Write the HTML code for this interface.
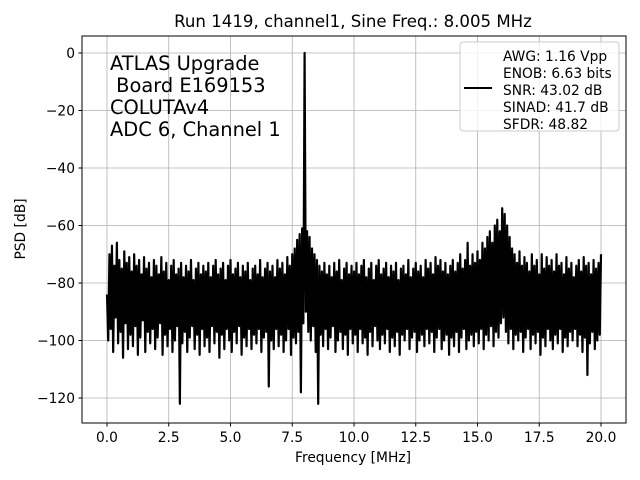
<!DOCTYPE html>
<html><head><meta charset="utf-8"><style>
body{margin:0;background:#fff}
svg{display:block;font-family:"DejaVu Sans","Liberation Sans",sans-serif}
</style></head><body>
<svg id="c" width="640" height="480">
<rect x="0" y="0" width="640" height="480" fill="#fff"/>
<g id="grid"></g>
<g id="plot"></g>
<rect x="82" y="36" width="544" height="387" fill="none" stroke="#000" stroke-width="1"/>
<g id="ticks"></g>
<text x="353" y="27" text-anchor="middle" font-size="16.6">Run 1419, channel1, Sine Freq.: 8.005 MHz</text>
<text x="353" y="462" text-anchor="middle" font-size="13.8">Frequency [MHz]</text>
<text transform="translate(25,229) rotate(-90)" text-anchor="middle" font-size="13.8">PSD [dB]</text>
<g font-size="19.4">
<text x="110" y="70">ATLAS Upgrade</text>
<text x="110" y="92" xml:space="preserve"> Board E169153</text>
<text x="110" y="114">COLUTAv4</text>
<text x="110" y="136">ADC 6, Channel 1</text>
</g>
<g>
<rect x="460" y="42" width="159" height="89" rx="3" fill="#fff" fill-opacity="0.8" stroke="#ccc"/>
<line x1="464" y1="88" x2="492" y2="88" stroke="#000" stroke-width="2"/>
<g font-size="13.8">
<text x="503" y="61">AWG: 1.16 Vpp</text>
<text x="503" y="78">ENOB: 6.63 bits</text>
<text x="503" y="95">SNR: 43.02 dB</text>
<text x="503" y="112">SINAD: 41.7 dB</text>
<text x="503" y="129">SFDR: 48.82</text>
</g>
</g>
</svg>
<script>
const xTicks=[0,2.5,5,7.5,10,12.5,15,17.5,20];
const xTickLabels=["0.0","2.5","5.0","7.5","10.0","12.5","15.0","17.5","20.0"];
const yTicks=[0,-20,-40,-60,-80,-100,-120];
const yTickLabels=["0","−20","−40","−60","−80","−100","−120"];
const freqStep=0.05;
const psd=[
-84,-100,-70,-96,-67,-104,-74,-92,-66,-101,-72,-97,-75,-106,-69,-94,-73,-103,-71,-98,
-76,-102,-70,-95,-74,-105,-72,-99,-77,-93,-71,-104,-75,-97,-73,-101,-78,-96,-72,-103,
-74,-99,-77,-94,-71,-105,-76,-98,-73,-102,-79,-96,-74,-104,-72,-100,-77,-95,-75,-122,
-73,-101,-78,-97,-74,-104,-76,-99,-72,-95,-79,-103,-75,-98,-73,-105,-77,-96,-74,-102,
-76,-99,-73,-104,-78,-95,-74,-101,-72,-97,-77,-106,-75,-98,-73,-103,-79,-96,-74,-100,
-72,-104,-77,-97,-75,-101,-73,-95,-78,-105,-74,-99,-76,-102,-73,-96,-79,-103,-75,-98,
-74,-101,-77,-96,-72,-104,-78,-99,-75,-97,-73,-116,-76,-100,-74,-103,-78,-96,-72,-102,
-75,-98,-73,-104,-77,-100,-71,-96,-74,-105,-70,-99,-68,-101,-65,-97,-63,-118,-61,-94,
0,-90,-62,-97,-64,-100,-68,-95,-70,-104,-72,-122,-74,-98,-76,-102,-73,-96,-77,-103,
-74,-99,-78,-95,-73,-104,-76,-100,-72,-97,-79,-103,-75,-98,-73,-105,-77,-96,-74,-101,
-76,-98,-73,-104,-77,-96,-74,-101,-72,-99,-78,-105,-75,-97,-73,-102,-79,-95,-74,-100,
-72,-103,-77,-98,-75,-101,-73,-96,-78,-104,-74,-99,-76,-102,-73,-97,-79,-105,-75,-98,
-74,-100,-77,-96,-72,-103,-78,-99,-75,-97,-73,-104,-76,-100,-74,-98,-78,-102,-72,-96,
-75,-101,-73,-97,-77,-104,-71,-99,-74,-96,-72,-103,-76,-100,-73,-98,-77,-105,-74,-99,
-72,-102,-76,-97,-73,-104,-70,-99,-75,-96,-72,-103,-66,-100,-74,-98,-70,-102,-73,-97,
-69,-101,-72,-96,-66,-103,-68,-98,-64,-100,-62,-95,-66,-102,-60,-97,-58,-99,-62,-94,
-54,-92,-56,-97,-60,-101,-64,-96,-68,-103,-70,-98,-73,-100,-69,-97,-74,-104,-71,-99,
-73,-96,-76,-103,-70,-98,-74,-101,-72,-97,-77,-105,-70,-99,-75,-102,-71,-96,-74,-100,
-72,-103,-76,-98,-70,-101,-74,-96,-73,-104,-77,-99,-71,-102,-75,-97,-73,-100,-78,-96,
-74,-102,-72,-98,-76,-104,-71,-99,-74,-112,-73,-101,-77,-97,-72,-103,-75,-100,-73,-98,
-70];
const X=v=>107+v*24.7, Y=v=>53-v*2.875;
const ns="http://www.w3.org/2000/svg";
const grid=document.getElementById('grid'), ticks=document.getElementById('ticks'), plot=document.getElementById('plot');
function mk(tag,attrs,parent){const e=document.createElementNS(ns,tag);for(const k in attrs)e.setAttribute(k,attrs[k]);parent.appendChild(e);return e;}
xTicks.forEach((t,i)=>{
 const g=mk('line',{x1:X(t),x2:X(t),y1:36,y2:423,stroke:'#b0b0b0','stroke-width':0.8},grid);
 
 
 const tk=mk('line',{x1:X(t),x2:X(t),y1:423,y2:426.5,stroke:'#000'},ticks);
 
 
 const tx=mk('text',{x:X(t),y:442,'text-anchor':'middle','font-size':13.8},ticks);
 tx.textContent=xTickLabels[i];
 
 
});
yTicks.forEach((t,i)=>{
 const g=mk('line',{x1:82,x2:626,y1:Y(t),y2:Y(t),stroke:'#b0b0b0','stroke-width':0.8},grid);
 
 
 const tk=mk('line',{x1:78.5,x2:82,y1:Y(t),y2:Y(t),stroke:'#000'},ticks);
 
 
 const tx=mk('text',{x:75,y:Y(t)+5,'text-anchor':'end','font-size':13.8},ticks);
 tx.textContent=yTickLabels[i];
 
 
});
const pts=psd.map((v,i)=>X(i*freqStep).toFixed(2)+','+Y(v).toFixed(2)).join(' ');
const line=mk('polyline',{points:pts,fill:'none',stroke:'#000','stroke-width':2.2,'stroke-linejoin':'round'},plot);


</script>
</body></html>
